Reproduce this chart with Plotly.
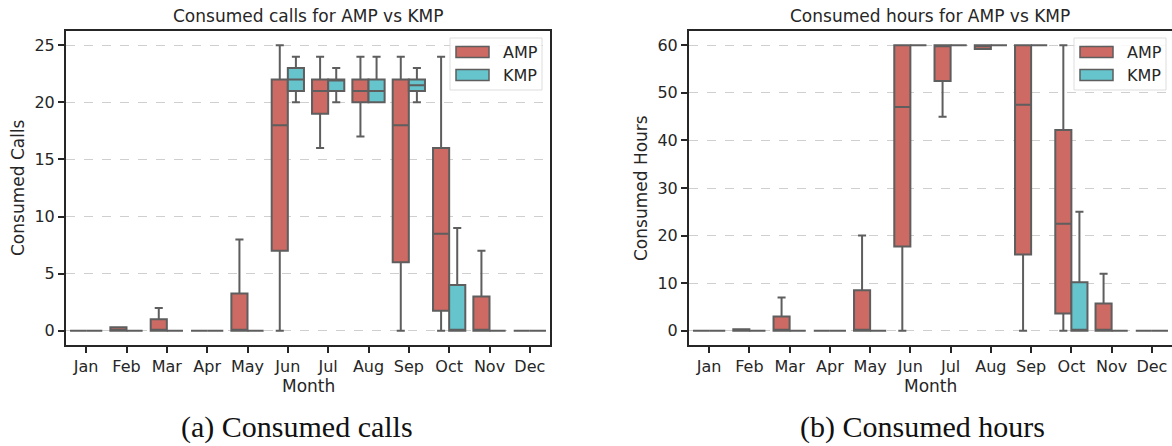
import plotly.graph_objects as go

MONTHS = ["Jan", "Feb", "Mar", "Apr", "May", "Jun", "Jul", "Aug", "Sep", "Oct", "Nov", "Dec"]

# Consumed calls - AMP
CALLS_AMP_LOW = [0, 0, 0, 0, 0, 0, 16, 17, 0, 0, 0, 0]
CALLS_AMP_Q1 = [0, 0, 0, 0, 0, 7, 19, 20, 6, 1.75, 0, 0]
CALLS_AMP_MED = [0, 0, 0, 0, 0, 18, 21, 21, 18, 8.5, 0, 0]
CALLS_AMP_Q3 = [0, 0.3, 1, 0, 3.25, 22, 22, 22, 22, 16, 3, 0]
CALLS_AMP_HIGH = [0, 0.3, 2, 0, 8, 25, 24, 24, 24, 24, 7, 0]
# Consumed calls - KMP
CALLS_KMP_LOW = [0, 0, 0, 0, 0, 20, 20, 20, 20, 0, 0, 0]
CALLS_KMP_Q1 = [0, 0, 0, 0, 0, 21, 21, 20, 21, 0, 0, 0]
CALLS_KMP_MED = [0, 0, 0, 0, 0, 22, 22, 21, 21.5, 0, 0, 0]
CALLS_KMP_Q3 = [0, 0, 0, 0, 0, 23, 22, 22, 22, 4, 0, 0]
CALLS_KMP_HIGH = [0, 0, 0, 0, 0, 24, 23, 24, 23, 9, 0, 0]

# Consumed hours - AMP
HOURS_AMP_LOW = [0, 0, 0, 0, 0, 0, 45, 59.2, 0, 0, 0, 0]
HOURS_AMP_Q1 = [0, 0, 0, 0, 0, 17.7, 52.5, 59.2, 16, 3.6, 0, 0]
HOURS_AMP_MED = [0, 0, 0, 0, 0, 47, 60, 60, 47.5, 22.5, 0, 0]
HOURS_AMP_Q3 = [0, 0.3, 3, 0, 8.5, 60, 60, 60, 60, 42.2, 5.7, 0]
HOURS_AMP_HIGH = [0, 0.3, 7, 0, 20, 60, 60, 60, 60, 60, 12, 0]
# Consumed hours - KMP
HOURS_KMP_LOW = [0, 0, 0, 0, 0, 60, 60, 60, 60, 0, 0, 0]
HOURS_KMP_Q1 = [0, 0, 0, 0, 0, 60, 60, 60, 60, 0, 0, 0]
HOURS_KMP_MED = [0, 0, 0, 0, 0, 60, 60, 60, 60, 0, 0, 0]
HOURS_KMP_Q3 = [0, 0, 0, 0, 0, 60, 60, 60, 60, 10.2, 0, 0]
HOURS_KMP_HIGH = [0, 0, 0, 0, 0, 60, 60, 60, 60, 25, 0, 0]

SERIES = ["AMP", "KMP"]
COLORS = {"AMP": "#CC6A63", "KMP": "#66C5CC"}
LINE = "#5E5E5E"
DARK = "#262626"
W, H = 1172, 446


def px(x):
    return x / W


def py(y):
    return 1 - y / H


def box(name, low, q1, med, q3, high, xa, ya):
    return go.Box(
        x=MONTHS, lowerfence=low, q1=q1, median=med, q3=q3, upperfence=high,
        name=name, offsetgroup=name, xaxis=xa, yaxis=ya,
        fillcolor=COLORS[name], line=dict(color=LINE, width=2),
        whiskerwidth=0.5, showlegend=False, hoverinfo="skip",
    )


fig = go.Figure()
fig.add_trace(box("AMP", CALLS_AMP_LOW, CALLS_AMP_Q1, CALLS_AMP_MED, CALLS_AMP_Q3, CALLS_AMP_HIGH, "x", "y"))
fig.add_trace(box("KMP", CALLS_KMP_LOW, CALLS_KMP_Q1, CALLS_KMP_MED, CALLS_KMP_Q3, CALLS_KMP_HIGH, "x", "y"))
fig.add_trace(box("AMP", HOURS_AMP_LOW, HOURS_AMP_Q1, HOURS_AMP_MED, HOURS_AMP_Q3, HOURS_AMP_HIGH, "x2", "y2"))
fig.add_trace(box("KMP", HOURS_KMP_LOW, HOURS_KMP_Q1, HOURS_KMP_MED, HOURS_KMP_Q3, HOURS_KMP_HIGH, "x2", "y2"))

FONT = "DejaVu Sans"
tickfont = dict(family=FONT, size=16, color=DARK)
ydom = [py(345), py(31)]

xcommon = dict(
    type="category", categoryorder="array", categoryarray=MONTHS, range=[-0.5, 11.5],
    showline=True, linecolor=DARK, linewidth=2, mirror=True,
    ticks="outside", ticklen=6, tickwidth=1.5, tickcolor=DARK,
    tickfont=tickfont, showgrid=False, zeroline=False, fixedrange=True,
)
ycommon = dict(
    showline=True, linecolor=DARK, linewidth=2,
    ticks="outside", ticklen=6, tickwidth=1.5, tickcolor=DARK,
    tickfont=tickfont, showgrid=True, gridcolor="#CFCFCF", griddash="dash", gridwidth=1,
    zeroline=False, fixedrange=True,
)

fig.update_layout(
    width=W, height=H, margin=dict(l=0, r=0, t=0, b=0),
    paper_bgcolor="white", plot_bgcolor="white",
    boxmode="group", boxgap=0.2, boxgroupgap=0.0,
    showlegend=False,
    xaxis=dict(domain=[px(66), px(550)], anchor="y", **xcommon),
    yaxis=dict(domain=ydom, anchor="x", range=[-1.25, 26.25], tickvals=[0, 5, 10, 15, 20, 25],
               mirror=True, **ycommon),
    xaxis2=dict(domain=[px(689), 1.0], anchor="y2", **xcommon),
    yaxis2=dict(domain=ydom, anchor="x2", range=[-3, 63], tickvals=[0, 10, 20, 30, 40, 50, 60],
                mirror=False, **ycommon),
)

annotations = []
shapes = []


def text(x, y, s, size=17, angle=0, family=FONT, color=DARK, xanchor="center"):
    annotations.append(dict(
        x=px(x), y=py(y), xref="paper", yref="paper", text=s, showarrow=False,
        font=dict(family=family, size=size, color=color), textangle=angle,
        xanchor=xanchor, yanchor="middle",
    ))


# Titles
text(308, 16, "Consumed calls for AMP vs KMP", size=17)
text(930, 16, "Consumed hours for AMP vs KMP", size=17)
# Axis titles
text(308, 386, "Month", size=17)
text(930, 386, "Month", size=17)
text(18, 188, "Consumed Calls", size=17, angle=-90)
text(641, 188, "Consumed Hours", size=17, angle=-90)
# Captions
text(297, 427, "(a) Consumed calls", size=30, family="Liberation Serif", color="#111111")
text(922, 427, "(b) Consumed hours", size=30, family="Liberation Serif", color="#111111")


def legend(x0, y0):
    shapes.append(dict(type="rect", xref="paper", yref="paper",
                       x0=px(x0), x1=px(x0 + 92), y0=py(y0), y1=py(y0 + 52),
                       line=dict(color="#DDDDDD", width=1), fillcolor="rgba(255,255,255,0.85)"))
    for i, name in enumerate(SERIES):
        yc = y0 + 14 + i * 23
        shapes.append(dict(type="rect", xref="paper", yref="paper",
                           x0=px(x0 + 6), x1=px(x0 + 39), y0=py(yc - 5.5), y1=py(yc + 5.5),
                           line=dict(color=LINE, width=1.5), fillcolor=COLORS[name]))
        text(x0 + 51, yc, name, size=16, xanchor="left")


legend(450, 38)
legend(1074, 38)

fig.update_layout(annotations=annotations, shapes=shapes)
fig.write_html("out.html")
